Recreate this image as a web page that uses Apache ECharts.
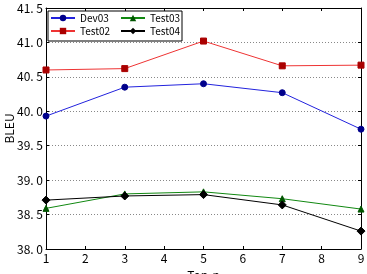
<!DOCTYPE html>
<html><head><meta charset="utf-8">
<script src="https://cdn.jsdelivr.net/npm/echarts@6/dist/echarts.min.js"></script>
<style>html,body{margin:0;padding:0;background:#fff}#c{width:367px;height:274px}</style>
</head><body><div id="c"></div>
<script>
var topN = [1, 3, 5, 7, 9];
var dev03 = [39.93, 40.35, 40.40, 40.27, 39.74];
var test02 = [40.60, 40.62, 41.02, 40.66, 40.67];
var test03 = [38.59, 38.80, 38.83, 38.73, 38.58];
var test04 = [38.71, 38.77, 38.79, 38.64, 38.26];
var yTicks = [38.0, 38.5, 39.0, 39.5, 40.0, 40.5, 41.0, 41.5];

function pairs(arr){ return topN.map(function(x,i){ return [x, arr[i]]; }); }
var font = '"Noto Sans CJK SC", "DejaVu Sans", sans-serif';
var chart = echarts.init(document.getElementById('c'));
function mk(name, data, color, lineColor, symbol, size){
  return {name:name, type:'line', data:pairs(data), symbol:symbol, symbolSize:size,
    itemStyle:{color:color, borderColor:color}, lineStyle:{color:lineColor, width:1}, z:3};
}
var tickStyle = {inside:true, length:3, lineStyle:{color:'#000'}};
var lineSt = {lineStyle:{color:'#000', width:1}};
var legendText = {fontFamily:font, fontSize:10, color:'#000'};
chart.setOption({
  animation:false,
  grid:{left:46, right:6, top:8, bottom:25, containLabel:false, outerBoundsMode:'none'},
  legend:[{
    data:['Dev03','Test02'], orient:'vertical', left:50, top:13, itemGap:3, padding:0,
    itemWidth:24, itemHeight:8, textStyle:legendText, z:6
  },{
    data:['Test03','Test04'], orient:'vertical', left:120, top:13, itemGap:3, padding:0,
    itemWidth:24, itemHeight:8, textStyle:legendText, z:6
  }],
  graphic:[{type:'rect', shape:{x:48, y:11, width:134, height:30}, style:{fill:'#fff', stroke:'#000', lineWidth:1}, z:5}],
  xAxis:[{type:'value', min:1, max:9, interval:1, name:'Top-n', nameLocation:'middle', nameGap:20, nameMoveOverlap:false,
    nameTextStyle:{fontFamily:font, fontSize:12, color:'#000'},
    axisLine:lineSt, axisTick:tickStyle,
    axisLabel:{fontFamily:font, fontSize:12, color:'#000', margin:3}, splitLine:{show:false}},
    {type:'value', position:'top', min:1, max:9, interval:1, axisLine:lineSt, axisTick:tickStyle,
    axisLabel:{show:false}, splitLine:{show:false}}],
  yAxis:[{type:'value', min:38, max:41.5, interval:0.5, name:'BLEU', nameLocation:'middle', nameGap:31, nameMoveOverlap:false,
    nameTextStyle:{fontFamily:font, fontSize:12, color:'#000'},
    axisLine:lineSt, axisTick:tickStyle,
    axisLabel:{fontFamily:font, fontSize:12, color:'#000', margin:3, formatter:function(v){return v.toFixed(1).replace('.', '. ');}},
    splitLine:{show:true, lineStyle:{color:'#888', type:[1,2], width:1}}},
    {type:'value', position:'right', min:38, max:41.5, interval:0.5, axisLine:lineSt, axisTick:tickStyle,
    axisLabel:{show:false}, splitLine:{show:false}}],
  series:[
    mk('Dev03', dev03, '#00008b', '#2222dd', 'circle', 6),
    mk('Test02', test02, '#aa0000', '#ee3333', 'rect', 6),
    mk('Test03', test03, '#005500', '#118811', 'triangle', 6),
    mk('Test04', test04, '#000000', '#000000', 'diamond', 8)
  ]
});
</script></body></html>
